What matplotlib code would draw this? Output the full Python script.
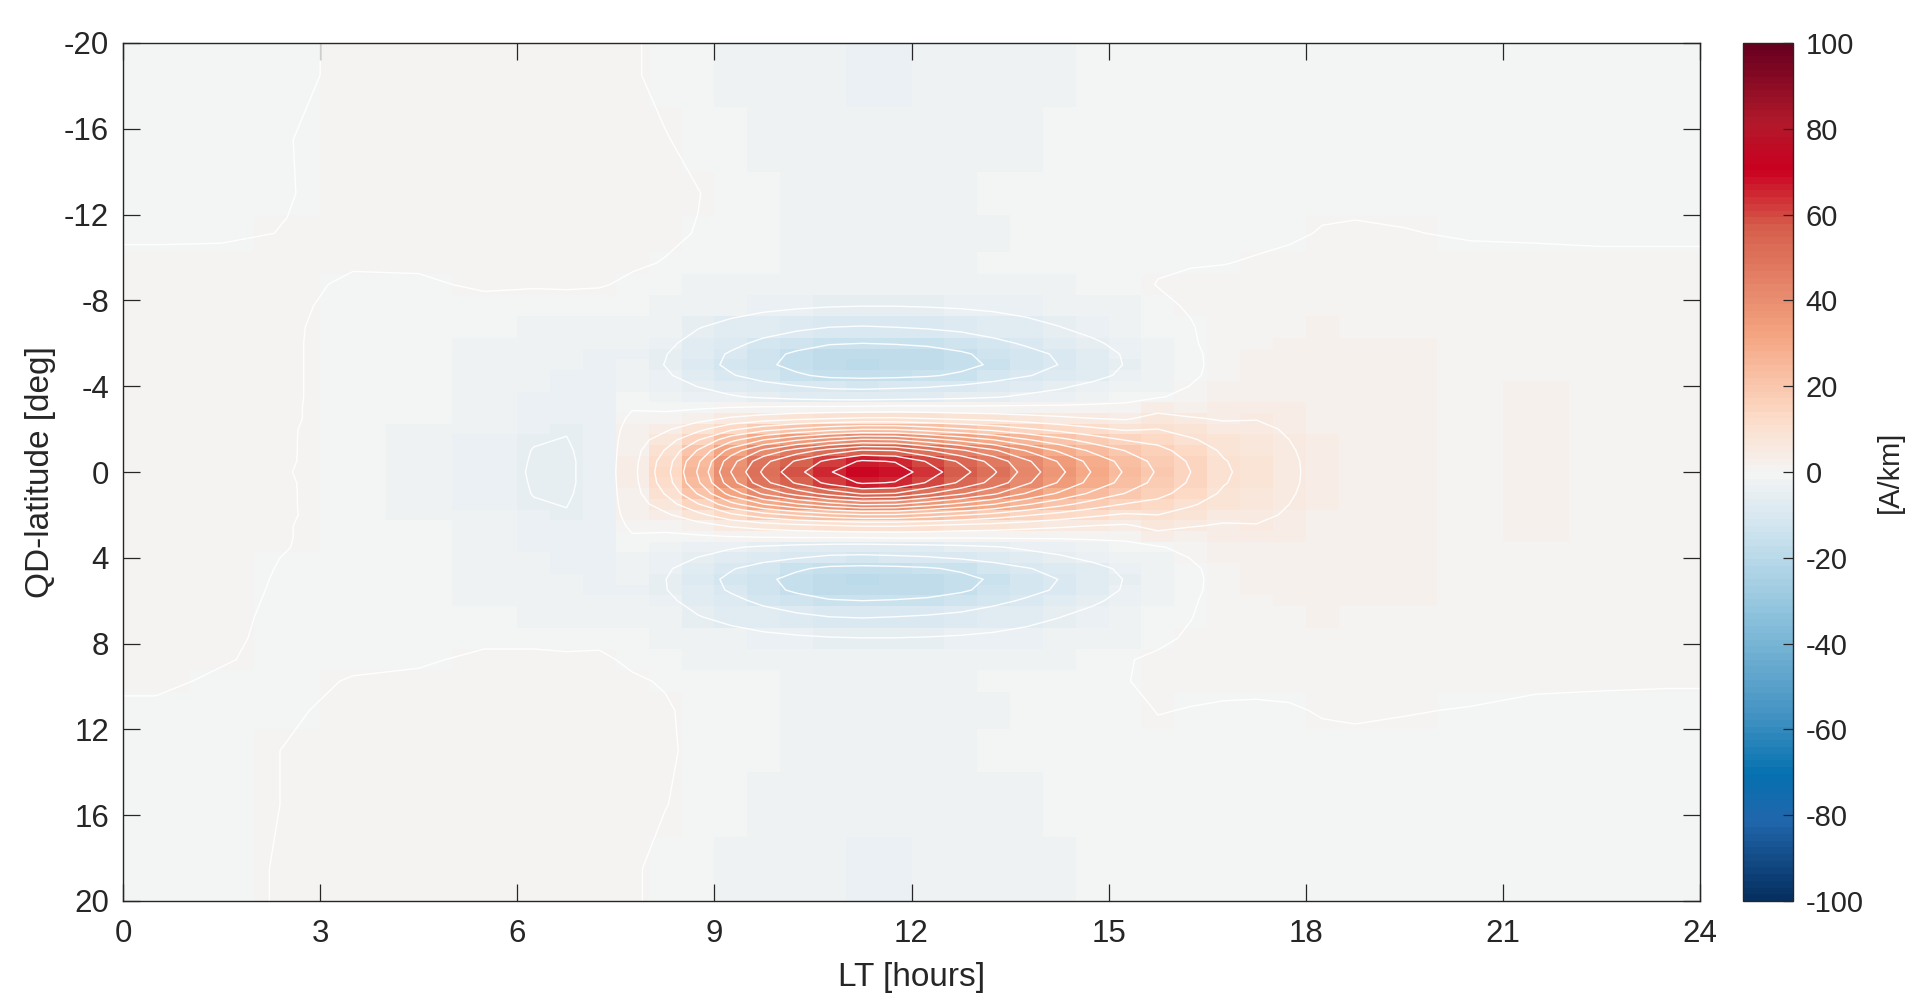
import numpy as np
import matplotlib
matplotlib.use("Agg")
import matplotlib.pyplot as plt
from matplotlib.colors import LinearSegmentedColormap

plt.rcParams['font.family'] = ['Liberation Sans', 'DejaVu Sans']
plt.rcParams['axes.unicode_minus'] = False

# ---------------- data grid (cell edges) ----------------
lt_edges = [0, 1, 2, 3, 4, 5, 6, 6.5, 7, 7.5, 8, 8.5, 9, 9.5, 10, 10.5, 11, 11.5,
            12, 12.5, 13, 13.5, 14, 14.5, 15, 15.5, 16, 16.5, 17, 17.5, 18, 18.5,
            19, 20, 21, 22, 23, 24]
lat_edges = [-20, -17, -14, -12, -10.25, -9.25, -8.25, -7.25,
             -6.25, -5.75, -5.25, -4.75, -4.25, -3.75, -3.25, -2.75, -2.25, -1.75,
             -1.25, -0.75, -0.25, 0.25, 0.75, 1.25, 1.75, 2.25, 2.75, 3.25, 3.75,
             4.25, 4.75, 5.25, 5.75, 6.25,
             7.25, 8.25, 9.25, 10.25, 12, 14, 17, 20]

# ---------------- current density [A/km], one list per LT column (north -> south) ----------------
lt_0030 = [-1.0, -1.0, -0.8, -0.5, 0.8, 0.8, 0.8, 0.8,
           0.8, 0.8, 0.8, 0.8, 0.8, 0.8, 0.8, 0.8, 0.8, 0.8, 0.8, 0.8, 0.8,
           0.8, 0.8, 0.8, 0.8, 0.8, 0.8, 0.8, 0.8, 0.8, 0.8, 0.8, 0.8,
           0.8, 0.8, 0.8, 0.5, -0.5, -0.8, -1.0, -1.0]
lt_0130 = [-1.0, -1.0, -0.8, -0.4, 0.8, 0.8, 0.8, 0.8,
           0.8, 0.8, 0.8, 0.8, 0.8, 0.8, 0.8, 0.8, 0.8, 0.8, 0.8, 0.8, 0.8,
           0.8, 0.8, 0.8, 0.8, 0.8, 0.8, 0.8, 0.8, 0.8, 0.8, 0.8, 0.6,
           0.5, 0.4, 0.2, -0.4, -0.6, -0.8, -0.8, -0.8]
lt_0230 = [-0.6, -0.1, -0.15, 0.1, 0.6, 0.5, 0.4, 0.3,
           0.3, 0.3, 0.3, 0.3, 0.3, 0.3, 0.3, 0.3, 0.2, 0.2, 0.2, 0.2, 0.1,
           0.2, 0.2, 0.2, 0.2, 0.1, 0.1, 0.05, -0.1, -0.2, -0.3, -0.4, -0.4,
           -0.5, -0.6, -0.7, -0.4, -0.3, 0.1, 0.1, 0.3]
lt_0330 = [0.6, 1.0, 1.0, 1.0, 0.2, -0.3, -0.6, -0.8,
           -0.9, -0.9, -0.9, -0.9, -0.9, -0.9, -1.0, -1.0, -1.0, -1.1, -1.1, -1.2, -1.2,
           -1.2, -1.1, -1.1, -1.0, -1.0, -1.0, -0.9, -0.9, -0.9, -0.9, -0.9, -0.9,
           -0.8, -0.6, -0.3, 0.1, 0.6, 0.8, 0.8, 0.8]
lt_0430 = [1.0, 1.0, 1.0, 1.0, 0.3, -0.3, -0.8, -1.0,
           -1.2, -1.2, -1.2, -1.2, -1.2, -1.2, -1.5, -1.5, -1.6, -1.7, -1.8, -1.9, -2.0,
           -1.9, -1.8, -1.7, -1.6, -1.5, -1.5, -1.2, -1.2, -1.2, -1.2, -1.2, -1.2,
           -1.0, -0.6, -0.2, 0.3, 0.8, 1.0, 1.0, 1.0]
lt_0530 = [1.0, 1.0, 1.0, 1.0, 0.8, 0.3, -0.6, -1.5,
           -2.0, -2.2, -2.3, -2.3, -2.3, -2.5, -2.7, -2.9, -3.0, -3.2, -3.4, -3.5, -3.5,
           -3.5, -3.4, -3.2, -3.0, -2.9, -2.7, -2.5, -2.3, -2.3, -2.3, -2.2, -2.0,
           -1.5, -0.3, 0.3, 0.8, 1.0, 1.0, 1.0, 1.0]
lt_0615 = [1.0, 1.0, 1.0, 0.8, 0.6, 0.2, -0.8, -1.8,
           -2.3, -2.5, -2.6, -2.7, -2.9, -3.2, -3.6, -4.0, -4.4, -4.8, -5.1, -5.2, -5.3,
           -5.2, -5.1, -4.8, -4.4, -4.0, -3.6, -3.2, -2.9, -2.7, -2.6, -2.5, -2.3,
           -1.8, -0.3, 0.3, 0.8, 1.0, 1.0, 1.0, 1.0]
lt_0645 = [1.0, 1.0, 1.0, 0.8, 0.5, 0.3, -0.9, -2.0,
           -2.6, -2.9, -3.1, -3.2, -3.3, -3.6, -4.0, -4.4, -4.8, -5.1, -5.4, -5.6, -5.6,
           -5.6, -5.4, -5.1, -4.8, -4.4, -4.0, -3.6, -3.3, -3.2, -3.1, -2.9, -2.6,
           -2.0, -0.5, 0.3, 0.8, 1.0, 1.0, 1.0, 1.0]
lt_0715 = [0.8, 1.0, 1.0, 0.6, 0.4, 0.2, -1.0, -2.2,
           -3.0, -3.4, -3.6, -3.6, -3.5, -3.3, -3.2, -3.2, -3.3, -3.4, -3.5, -3.5, -3.5,
           -3.5, -3.5, -3.4, -3.3, -3.2, -3.2, -3.3, -3.5, -3.6, -3.6, -3.4, -3.0,
           -2.2, -0.5, 0.4, 0.8, 1.0, 1.0, 1.0, 0.8]
lt_0745 = [0.4, 0.8, 0.9, 0.6, 0.3, -0.4, -1.5, -2.6,
           -3.1, -3.3, -3.0, -2.8, -2.3, -1.5, -0.3, 0.8, 1.8, 2.5, 3.0, 3.3, 3.5,
           3.3, 3.0, 2.5, 1.8, 0.8, -0.3, -1.5, -2.3, -2.8, -3.0, -3.3, -3.1,
           -2.6, -1.5, -0.4, 0.3, 0.8, 0.9, 0.8, 0.4]
lt_0815 = [-1.0, 0.2, 0.6, 0.4, -0.1, -1.4, -1.8, -3.1,
           -4.1, -4.8, -5.1, -4.4, -3.3, -2.5, -0.7, 1.2, 4.1, 7.3, 10.3, 12.3, 13.0,
           12.3, 10.3, 7.3, 4.1, 1.2, -0.7, -2.5, -3.3, -4.4, -4.9, -4.8, -4.1,
           -3.1, -1.8, -1.4, -0.2, 0.3, 0.4, 0.1, -0.9]
lt_0845 = [-1.3, -1.0, 0.1, -0.1, -1.2, -1.7, -2.4, -4.8,
           -6.5, -7.7, -8.0, -7.0, -5.1, -3.6, -0.5, 3.1, 8.5, 14.7, 20.4, 24.2, 25.5,
           24.2, 20.4, 14.7, 8.5, 3.1, -0.5, -3.6, -5.1, -7.0, -8.0, -7.7, -6.5,
           -4.8, -2.4, -1.7, -1.2, -0.7, -0.6, -0.9, -1.3]
lt_0915 = [-1.8, -1.4, -1.1, -1.3, -1.4, -2.0, -3.1, -6.3,
           -8.8, -10.5, -11.0, -9.6, -6.7, -4.6, 0.1, 5.6, 13.9, 23.4, 32.1, 38.0, 40.0,
           38.0, 32.1, 23.4, 13.9, 5.6, 0.1, -4.6, -6.7, -9.6, -11.0, -10.5, -8.8,
           -6.3, -3.1, -2.0, -1.4, -1.3, -1.2, -1.4, -1.8]
lt_0945 = [-2.5, -1.8, -1.4, -1.5, -1.5, -2.3, -3.8, -7.8,
           -11.1, -13.4, -14.0, -12.1, -8.4, -5.6, 0.5, 7.4, 17.9, 30.0, 41.0, 48.5, 51.0,
           48.5, 41.0, 30.0, 17.9, 7.4, 0.5, -5.6, -8.4, -12.1, -14.0, -13.4, -11.1,
           -7.8, -3.8, -2.3, -1.5, -1.5, -1.4, -1.8, -2.5]
lt_1015 = [-2.8, -2.0, -1.6, -1.8, -1.6, -2.5, -4.3, -9.0,
           -13.1, -15.8, -16.5, -14.3, -9.8, -6.5, 0.8, 8.7, 20.7, 34.5, 47.1, 55.7, 58.5,
           55.7, 47.1, 34.5, 20.7, 8.7, 0.8, -6.5, -9.8, -14.3, -16.5, -15.8, -13.1,
           -9.0, -4.3, -2.5, -1.6, -1.8, -1.6, -2.0, -2.8]
lt_1045 = [-3.0, -2.2, -1.8, -2.0, -1.7, -2.7, -4.7, -10.0,
           -14.6, -17.7, -18.5, -16.0, -10.9, -7.1, 0.9, 9.7, 23.0, 38.2, 52.0, 61.5, 64.6,
           61.5, 52.0, 38.2, 23.0, 9.7, 0.9, -7.1, -10.9, -16.0, -18.5, -17.7, -14.6,
           -10.0, -4.7, -2.7, -1.7, -2.0, -1.8, -2.2, -3.0]
lt_1115 = [-3.2, -2.3, -1.8, -2.0, -1.7, -2.8, -4.9, -10.3,
           -15.0, -18.1, -19.0, -16.4, -11.1, -7.3, 1.1, 10.5, 24.6, 40.8, 55.6, 65.7, 69.0,
           65.7, 55.6, 40.8, 24.6, 10.5, 1.1, -7.3, -11.1, -16.4, -19.0, -18.1, -15.0,
           -10.3, -4.9, -2.8, -1.7, -2.0, -1.8, -2.3, -3.2]
lt_1145 = [-3.2, -2.3, -1.8, -2.0, -1.7, -2.8, -4.9, -10.0,
           -14.7, -17.8, -18.7, -16.1, -10.8, -7.0, 1.4, 10.6, 24.4, 40.3, 54.9, 64.7, 68.0,
           64.7, 54.9, 40.3, 24.4, 10.6, 1.4, -7.0, -10.8, -16.1, -18.7, -17.8, -14.7,
           -10.0, -4.9, -2.8, -1.7, -2.0, -1.8, -2.3, -3.2]
lt_1215 = [-3.0, -2.2, -1.7, -1.9, -1.7, -2.7, -4.7, -9.5,
           -14.1, -17.2, -18.0, -15.5, -10.4, -6.6, 1.3, 9.8, 22.5, 37.1, 50.4, 59.5, 62.5,
           59.5, 50.4, 37.1, 22.5, 9.8, 1.3, -6.6, -10.4, -15.5, -18.0, -17.2, -14.1,
           -9.5, -4.7, -2.7, -1.7, -1.9, -1.7, -2.2, -3.0]
lt_1245 = [-2.8, -2.0, -1.6, -1.8, -1.6, -2.6, -4.4, -8.8,
           -12.9, -15.7, -16.5, -14.2, -9.5, -6.1, 1.1, 8.8, 20.4, 33.7, 45.9, 54.2, 56.9,
           54.2, 45.9, 33.7, 20.4, 8.8, 1.1, -6.1, -9.5, -14.2, -16.5, -15.7, -12.9,
           -8.8, -4.4, -2.6, -1.6, -1.8, -1.6, -2.0, -2.8]
lt_1315 = [-2.5, -1.8, -1.5, -1.6, -1.5, -2.4, -4.0, -7.6,
           -11.2, -13.6, -14.3, -12.3, -8.2, -5.3, 1.1, 8.0, 18.3, 30.1, 40.9, 48.3, 50.7,
           48.3, 40.9, 30.1, 18.3, 8.0, 1.1, -5.3, -8.2, -12.3, -14.3, -13.6, -11.2,
           -7.6, -4.0, -2.4, -1.5, -1.6, -1.5, -1.8, -2.5]
lt_1345 = [-2.2, -1.6, -1.4, -1.5, -1.4, -2.2, -3.5, -6.3,
           -9.4, -11.4, -12.0, -10.3, -6.8, -4.3, 1.1, 6.9, 15.6, 25.5, 34.7, 40.9, 42.9,
           40.9, 34.7, 25.5, 15.6, 6.9, 1.1, -4.3, -6.8, -10.3, -12.0, -11.4, -9.4,
           -6.3, -3.5, -2.2, -1.4, -1.5, -1.4, -1.6, -2.2]
lt_1415 = [-1.8, -1.4, -1.2, -1.3, -1.2, -1.8, -2.9, -5.1,
           -7.7, -9.4, -9.9, -8.5, -5.6, -3.5, 1.0, 5.9, 13.2, 21.6, 29.3, 34.5, 36.2,
           34.5, 29.3, 21.6, 13.2, 5.9, 1.0, -3.5, -5.6, -8.5, -9.9, -9.4, -7.7,
           -5.1, -2.9, -1.8, -1.2, -1.3, -1.2, -1.4, -1.8]
lt_1445 = [-1.5, -1.2, -1.0, -1.1, -0.9, -1.3, -2.2, -3.7,
           -5.7, -7.0, -7.4, -6.3, -4.1, -2.4, 1.1, 5.0, 11.0, 17.8, 24.1, 28.3, 29.7,
           28.3, 24.1, 17.8, 11.0, 5.0, 1.1, -2.4, -4.1, -6.3, -7.4, -7.0, -5.7,
           -3.7, -2.2, -1.3, -0.9, -1.1, -1.0, -1.2, -1.5]
lt_1515 = [-1.2, -1.0, -0.9, -0.9, -0.7, -0.9, -1.6, -2.4,
           -3.8, -4.6, -4.8, -4.2, -2.6, -1.5, 1.2, 4.4, 9.3, 14.8, 19.9, 23.4, 24.5,
           23.4, 19.9, 14.8, 9.3, 4.4, 1.2, -1.5, -2.6, -4.2, -4.8, -4.6, -3.8,
           -2.4, -1.6, -0.2, -0.1, -0.9, -0.9, -1.0, -1.2]
lt_1545 = [-1.2, -1.0, -0.8, -0.8, -0.3, 0.1, -0.6, -1.3,
           -2.0, -2.6, -2.8, -2.6, -1.6, -0.3, 3.3, 6.6, 10.0, 13.5, 16.5, 18.4, 19.4,
           18.4, 16.5, 13.5, 10.0, 6.6, 3.3, -0.3, -1.6, -2.6, -2.8, -2.6, -2.0,
           -1.3, -0.6, 0.5, 0.5, 0.1, -0.8, -1.0, -1.2]
lt_1615 = [-1.1, -0.9, -0.8, -0.8, -0.2, 0.6, 0.3, -0.2,
           -0.4, -0.7, -0.8, -0.6, 0.1, 1.0, 3.0, 5.3, 7.9, 10.6, 12.9, 14.4, 15.0,
           14.4, 12.9, 10.6, 7.9, 5.3, 3.0, 1.0, 0.1, -0.6, -0.8, -0.7, -0.4,
           -0.1, 0.4, 0.6, 0.6, -0.1, -0.8, -0.9, -1.1]
lt_1645 = [-1.0, -0.9, -0.8, -0.7, -0.1, 1.0, 1.2, 1.3,
           1.3, 1.2, 1.2, 1.3, 1.7, 2.3, 3.2, 4.6, 6.2, 7.9, 9.3, 10.3, 10.7,
           10.3, 9.3, 7.9, 6.2, 4.6, 3.2, 2.3, 1.7, 1.3, 1.2, 1.2, 1.3,
           1.3, 1.2, 1.0, 0.8, -0.4, -0.8, -0.9, -1.0]
lt_1715 = [-1.0, -0.9, -0.9, -0.8, 0.3, 1.1, 1.3, 1.4,
           1.5, 1.6, 1.7, 1.9, 2.2, 2.7, 3.6, 4.8, 6.0, 6.6, 7.2, 7.9, 8.1,
           7.9, 7.2, 6.6, 6.0, 4.8, 3.6, 2.7, 2.2, 1.9, 1.7, 1.6, 1.5,
           1.4, 1.3, 1.1, 0.8, -0.5, -0.9, -0.9, -1.0]
lt_1745 = [-1.0, -0.9, -0.9, -0.5, 0.8, 1.1, 1.3, 1.5,
           1.7, 1.8, 1.9, 2.1, 2.4, 2.8, 3.3, 3.9, 4.5, 5.0, 5.4, 5.7, 5.8,
           5.7, 5.4, 5.0, 4.5, 3.9, 3.3, 2.8, 2.4, 2.1, 1.9, 1.8, 1.7,
           1.5, 1.3, 1.1, 0.8, -0.3, -0.9, -0.9, -1.0]
lt_1815 = [-1.0, -0.9, -0.8, 0.2, 0.9, 1.2, 1.4, 1.6,
           1.8, 1.9, 2.0, 2.1, 2.3, 2.5, 2.7, 2.9, 3.1, 3.3, 3.4, 3.5, 3.5,
           3.5, 3.4, 3.3, 3.1, 2.9, 2.7, 2.5, 2.3, 2.1, 2.0, 1.9, 1.8,
           1.6, 1.4, 1.2, 0.9, 0.2, -0.8, -0.9, -1.0]
lt_1845 = [-0.9, -0.8, -0.6, 0.3, 0.9, 1.2, 1.3, 1.5,
           1.7, 1.8, 1.9, 2.0, 2.1, 2.2, 2.3, 2.4, 2.5, 2.6, 2.7, 2.8, 2.8,
           2.8, 2.7, 2.6, 2.5, 2.4, 2.3, 2.2, 2.1, 2.0, 1.9, 1.8, 1.7,
           1.5, 1.3, 1.2, 0.9, 0.3, -0.6, -0.8, -0.9]
lt_1930 = [-0.8, -0.7, -0.6, 0.1, 0.8, 1.0, 1.1, 1.3,
           1.6, 1.6, 1.6, 1.6, 1.6, 1.8, 2.0, 2.0, 2.0, 2.0, 2.0, 2.0, 2.0,
           2.0, 2.0, 2.0, 2.0, 2.0, 2.0, 1.8, 1.6, 1.6, 1.6, 1.6, 1.6,
           1.3, 1.1, 1.0, 0.8, 0.1, -0.6, -0.7, -0.8]
lt_2030 = [-0.8, -0.7, -0.6, -0.2, 0.6, 0.9, 1.0, 1.1,
           1.3, 1.3, 1.3, 1.3, 1.3, 1.4, 1.5, 1.5, 1.5, 1.5, 1.5, 1.5, 1.5,
           1.5, 1.5, 1.5, 1.5, 1.5, 1.5, 1.4, 1.3, 1.3, 1.3, 1.3, 1.3,
           1.1, 1.0, 0.9, 0.6, -0.1, -0.6, -0.7, -0.8]
lt_2130 = [-0.8, -0.7, -0.6, -0.3, 0.6, 0.8, 0.9, 1.0,
           1.3, 1.3, 1.3, 1.3, 2.0, 2.0, 2.1, 2.2, 2.2, 2.2, 2.2, 2.2, 2.2,
           2.2, 2.2, 2.2, 2.2, 2.2, 1.8, 1.5, 1.3, 1.3, 1.3, 1.3, 1.3,
           1.0, 0.9, 0.8, 0.4, -0.5, -0.6, -0.7, -0.8]
lt_2230 = [-0.8, -0.7, -0.6, -0.4, 0.5, 0.7, 0.9, 1.0,
           1.4, 1.4, 1.4, 1.4, 1.4, 1.4, 1.4, 1.4, 1.4, 1.4, 1.4, 1.4, 1.5,
           1.4, 1.4, 1.4, 1.4, 1.4, 1.4, 1.4, 1.4, 1.4, 1.4, 1.4, 1.4,
           1.0, 0.9, 0.7, 0.3, -0.6, -0.6, -0.7, -0.8]
lt_2330 = [-0.8, -0.7, -0.6, -0.4, 0.5, 0.6, 0.8, 1.0,
           1.2, 1.2, 1.2, 1.2, 1.2, 1.2, 1.2, 1.2, 1.2, 1.2, 1.2, 1.2, 1.2,
           1.2, 1.2, 1.2, 1.2, 1.2, 1.2, 1.2, 1.2, 1.2, 1.2, 1.2, 1.2,
           1.0, 0.8, 0.6, 0.2, -0.6, -0.6, -0.7, -0.8]

columns = [lt_0030, lt_0130, lt_0230, lt_0330, lt_0430, lt_0530, lt_0615, lt_0645,
           lt_0715, lt_0745, lt_0815, lt_0845, lt_0915, lt_0945, lt_1015, lt_1045,
           lt_1115, lt_1145, lt_1215, lt_1245, lt_1315, lt_1345, lt_1415, lt_1445,
           lt_1515, lt_1545, lt_1615, lt_1645, lt_1715, lt_1745, lt_1815, lt_1845,
           lt_1930, lt_2030, lt_2130, lt_2230, lt_2330]

x_ticks = [0, 3, 6, 9, 12, 15, 18, 21, 24]
y_ticks = [-20, -16, -12, -8, -4, 0, 4, 8, 12, 16, 20]
cbar_ticks = [-100, -80, -60, -40, -20, 0, 20, 40, 60, 80, 100]

# ---------------- build ----------------
Z = np.array(columns, dtype=float).T
lt_e = np.array(lt_edges, dtype=float)
lat_e = np.array(lat_edges, dtype=float)
lt_c = 0.5 * (lt_e[:-1] + lt_e[1:])
lat_c = 0.5 * (lat_e[:-1] + lat_e[1:])

# contour grid: outermost cell values carried to the frame edges so lines reach the border
Zc = np.pad(Z, 1, mode='edge')
lt_cc = np.concatenate([[lt_e[0]], lt_c, [lt_e[-1]]])
lat_cc = np.concatenate([[lat_e[0]], lat_c, [lat_e[-1]]])

anchors = [(-100, '#053061'), (-82, '#2166ac'), (-71, '#0571b0'), (-57, '#4393c3'),
           (-32, '#92c5de'), (-13, '#d1e5f0'), (0, '#f5f5f4'), (13, '#fddbc7'),
           (32, '#f4a582'), (57, '#d6604d'), (71, '#ca0020'), (82, '#b2182b'),
           (100, '#67001f')]
cmap = LinearSegmentedColormap.from_list(
    'rdbu_custom', [((v + 100) / 200.0, c) for v, c in anchors], N=128)

W, H = 1912, 1007
fig = plt.figure(figsize=(W / 100, H / 100), dpi=100)
ax = fig.add_axes([123 / W, 1 - 901 / H, (1700 - 123) / W, (901 - 43) / H])
cax = fig.add_axes([1743 / W, 1 - 901 / H, (1793 - 1743) / W, (901 - 43) / H])

dark = '#262626'
pcm = ax.pcolormesh(lt_e, lat_e, Z, cmap=cmap, vmin=-100, vmax=100, shading='flat')
ax.contour(lt_cc, lat_cc, Zc, levels=np.arange(-20, 80, 5), colors='white',
           linewidths=1.0, linestyles='solid', alpha=0.95)

ax.set_xlim(0, 24)
ax.set_ylim(20, -20)
ax.set_xticks(x_ticks)
ax.set_yticks(y_ticks)
ax.tick_params(direction='in', top=True, right=True, length=12, width=0.9,
               color=dark, labelcolor=dark, labelsize=22.5, pad=10)
ax.tick_params(axis='x', pad=13)
for s in ax.spines.values():
    s.set_color(dark)
    s.set_linewidth(1.0)
ax.set_xlabel('LT [hours]', fontsize=24, color=dark, labelpad=9)
ax.set_ylabel('QD-latitude [deg]', fontsize=24, color=dark, labelpad=6)

cb = fig.colorbar(pcm, cax=cax, ticks=cbar_ticks)
cb.ax.tick_params(direction='in', length=7, width=0.9, color=dark,
                  labelcolor=dark, labelsize=21, pad=9)
cb.outline.set_edgecolor(dark)
cb.outline.set_linewidth(1.0)
cb.set_label('[A/km]', fontsize=21, color=dark, labelpad=9)

fig.savefig('out.png', dpi=100)
